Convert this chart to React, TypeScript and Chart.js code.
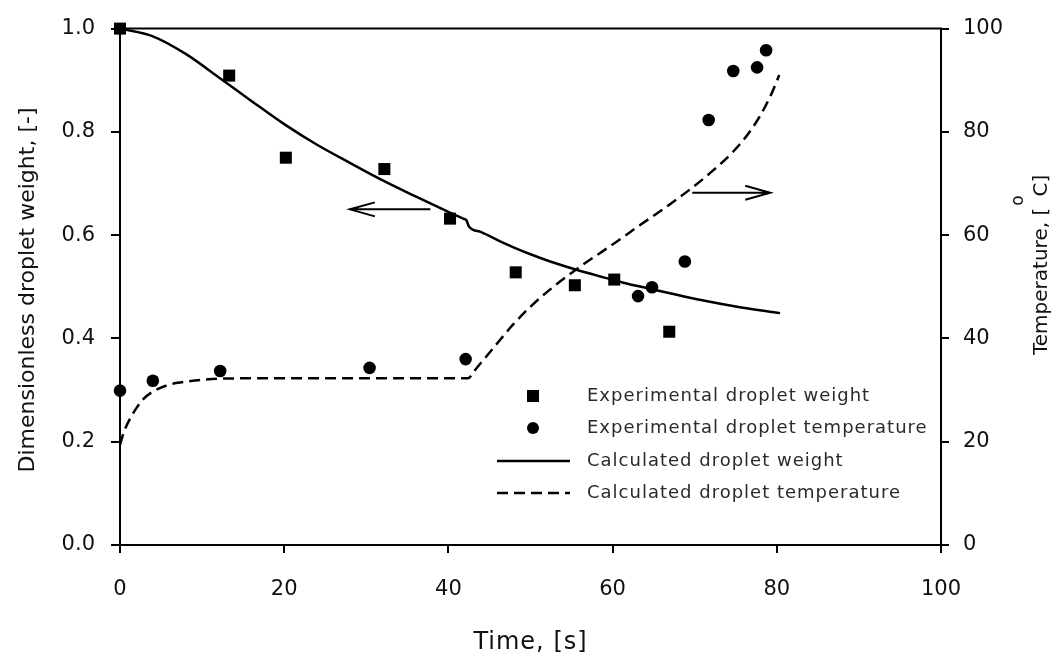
import React, { useEffect, useRef } from "react";
import { Chart, registerables } from "chart.js";

Chart.register(...registerables);

// ---------- data ----------
const expWeightTime = [0, 13.3, 20.2, 32.2, 40.2, 48.2, 55.4, 60.2, 66.9];
const expWeightValue = [1.0, 0.909, 0.75, 0.728, 0.632, 0.528, 0.503, 0.514, 0.413];

const expTempTime = [0, 4.0, 12.2, 30.4, 42.1, 63.1, 64.8, 68.8, 71.7, 74.7, 77.6, 78.7];
const expTempValue = [29.9, 31.8, 33.7, 34.3, 36.0, 48.2, 49.9, 54.9, 82.3, 91.8, 92.5, 95.8];

const calcWeightTime = [0, 4, 8, 12, 16, 20, 24, 28, 32, 36, 40, 41.8, 42.2, 42.5, 44, 46.3, 48, 50, 52.4, 55.6, 58.5, 61.3, 64.6, 67.4, 70.6, 75, 80.4];
const calcWeightValue = [1.0, 0.985, 0.951, 0.906, 0.86, 0.815, 0.775, 0.74, 0.706, 0.675, 0.645, 0.632, 0.629, 0.617, 0.606, 0.588, 0.576, 0.563, 0.549, 0.533, 0.52, 0.508, 0.496, 0.486, 0.475, 0.462, 0.449];

const calcTempTime = [0, 0.5, 1.2, 2, 2.8, 4, 5.7, 7, 8.9, 12, 20, 30, 42.4, 43.2, 45.4, 48, 50.3, 52.4, 55.6, 60, 63.3, 67, 69.7, 72, 74.7, 76.5, 78, 79.3, 80.3];
const calcTempValue = [19.4, 22, 24.4, 26.5, 28.2, 29.7, 30.9, 31.4, 31.8, 32.2, 32.3, 32.3, 32.3, 33.8, 38.0, 42.9, 46.6, 49.5, 53.4, 58.2, 61.9, 66.0, 69.2, 72.2, 76.2, 79.6, 83.2, 87.2, 91.0];

const xTicks = [0, 20, 40, 60, 80, 100];
const weightTicks = [0, 0.2, 0.4, 0.6, 0.8, 1.0];
const tempTicks = [0, 20, 40, 60, 80, 100];

const legendLabels = [
  "Experimental droplet weight",
  "Experimental droplet temperature",
  "Calculated droplet weight",
  "Calculated droplet temperature",
];

const axisTitles = ["Time, [s]", "Dimensionless droplet weight, [-]", "Temperature, [", "o", "C]"];

// arrows: [fromTime, toTime, value]
const weightArrow = [37.8, 28.0, 0.65];
const tempArrow = [69.7, 79.2, 68.2];

const FONT = '"DejaVu Sans", Verdana, sans-serif';

export default function App() {
  const ref = useRef<HTMLCanvasElement>(null);

  useEffect(() => {
    const canvas = ref.current;
    if (!canvas) return;

    const drawArrow = (ctx: CanvasRenderingContext2D, x1: number, x2: number, y: number) => {
      const dir = x2 > x1 ? 1 : -1;
      ctx.beginPath();
      ctx.moveTo(x1, y);
      ctx.lineTo(x2, y);
      ctx.moveTo(x2 - dir * 25, y - 7);
      ctx.lineTo(x2, y);
      ctx.lineTo(x2 - dir * 25, y + 7);
      ctx.stroke();
    };

    const overlay = {
      id: "overlay",
      afterDraw(chart: any) {
        const ctx: CanvasRenderingContext2D = chart.ctx;
        const { left, right, top } = chart.chartArea;
        const xs = chart.scales.x;
        const ys = chart.scales.y;
        const y2 = chart.scales.y2;
        ctx.save();
        // top border
        ctx.strokeStyle = "#000";
        ctx.lineWidth = 2;
        ctx.beginPath();
        ctx.moveTo(left, top);
        ctx.lineTo(right + 1, top);
        ctx.stroke();

        // arrows
        ctx.lineWidth = 2;
        drawArrow(ctx, xs.getPixelForValue(weightArrow[0]), xs.getPixelForValue(weightArrow[1]), ys.getPixelForValue(weightArrow[2]));
        drawArrow(ctx, xs.getPixelForValue(tempArrow[0]), xs.getPixelForValue(tempArrow[1]), y2.getPixelForValue(tempArrow[2]));

        // titles
        ctx.fillStyle = "#111";
        ctx.textAlign = "center";
        ctx.textBaseline = "middle";
        ctx.font = `24px ${FONT}`;
        (ctx as any).letterSpacing = "1px";
        ctx.fillText(axisTitles[0], (left + right) / 2, 643);
        (ctx as any).letterSpacing = "0px";

        ctx.save();
        ctx.translate(28, 290);
        ctx.rotate(-Math.PI / 2);
        ctx.font = `22px ${FONT}`;
        ctx.fillText(axisTitles[1], 0, 0);
        ctx.restore();

        ctx.save();
        ctx.translate(1047, 355);
        ctx.rotate(-Math.PI / 2);
        ctx.textAlign = "left";
        ctx.textBaseline = "alphabetic";
        ctx.font = `20px ${FONT}`;
        ctx.fillText(axisTitles[2], 0, 0);
        const w1 = ctx.measureText(axisTitles[2]).width;
        ctx.font = `17px ${FONT}`;
        ctx.fillText(axisTitles[3], w1 + 2, -24);
        const w2 = ctx.measureText(axisTitles[3]).width;
        ctx.font = `20px ${FONT}`;
        ctx.fillText(axisTitles[4], w1 + w2 + 1, 0);
        ctx.restore();

        // legend
        const rowsY = [396, 428, 461, 493];
        const markX = 533;
        const textX = 587;
        ctx.textAlign = "left";
        ctx.textBaseline = "middle";
        ctx.font = `18px ${FONT}`;
        (ctx as any).letterSpacing = "1px";
        legendLabels.forEach((label, i) => {
          const y = rowsY[i];
          ctx.fillStyle = "#000";
          ctx.strokeStyle = "#000";
          if (i === 0) {
            ctx.fillRect(markX - 6, y - 6, 12, 12);
          } else if (i === 1) {
            ctx.beginPath();
            ctx.arc(markX, y, 6, 0, Math.PI * 2);
            ctx.fill();
          } else {
            ctx.lineWidth = 2.5;
            ctx.setLineDash(i === 3 ? [11, 6] : []);
            ctx.beginPath();
            ctx.moveTo(497, y);
            ctx.lineTo(570, y);
            ctx.stroke();
            ctx.setLineDash([]);
          }
          ctx.fillStyle = "#2a2a2a";
          ctx.fillText(label, textX, y);
        });
        (ctx as any).letterSpacing = "0px";
        ctx.restore();
      },
    };

    const gridOpts = (len: number) => ({
      display: true,
      drawOnChartArea: false,
      drawTicks: true,
      tickLength: len,
      color: "#000",
      lineWidth: 2,
    });
    const borderOpts = { display: true, color: "#000", width: 2 };
    const tickFont = { family: FONT, size: 21 };

    const chart = new Chart(canvas, {
      type: "scatter",
      data: {
        datasets: [
          {
            label: legendLabels[0],
            data: expWeightTime.map((t, i) => ({ x: t, y: expWeightValue[i] })),
            yAxisID: "y",
            pointStyle: "rect",
            pointRadius: 8.5,
            backgroundColor: "#000",
            borderColor: "#000",
            borderWidth: 0,
            clip: false,
          },
          {
            label: legendLabels[1],
            data: expTempTime.map((t, i) => ({ x: t, y: expTempValue[i] })),
            yAxisID: "y2",
            pointStyle: "circle",
            pointRadius: 6.3,
            backgroundColor: "#000",
            borderColor: "#000",
            borderWidth: 0,
            clip: false,
          },
          {
            label: legendLabels[2],
            data: calcWeightTime.map((t, i) => ({ x: t, y: calcWeightValue[i] })),
            yAxisID: "y",
            showLine: true,
            pointRadius: 0,
            borderColor: "#000",
            borderWidth: 2.5,
            cubicInterpolationMode: "monotone",
            clip: false,
          },
          {
            label: legendLabels[3],
            data: calcTempTime.map((t, i) => ({ x: t, y: calcTempValue[i] })),
            yAxisID: "y2",
            showLine: true,
            pointRadius: 0,
            borderColor: "#000",
            borderWidth: 2.5,
            borderDash: [11, 6],
            cubicInterpolationMode: "monotone",
            clip: false,
          },
        ],
      } as any,
      options: {
        responsive: false,
        animation: false,
        events: [],
        layout: { padding: { top: 20, left: 0, right: 0, bottom: 0 } },
        plugins: { legend: { display: false }, tooltip: { enabled: false } },
        scales: {
          x: {
            type: "linear",
            position: "bottom",
            min: 0,
            max: 100,
            afterBuildTicks: (s: any) => { s.ticks = xTicks.map((v) => ({ value: v })); },
            ticks: { font: tickFont, color: "#111", padding: 24, maxRotation: 0 },
            grid: gridOpts(8),
            border: borderOpts,
            afterFit: (s: any) => { s.height = 115; },
          },
          y: {
            type: "linear",
            position: "left",
            min: 0,
            max: 1,
            afterBuildTicks: (s: any) => { s.ticks = weightTicks.map((v) => ({ value: v })); },
            ticks: { font: tickFont, color: "#111", padding: 16, callback: (v: any) => Number(v).toFixed(1) },
            grid: gridOpts(9),
            border: borderOpts,
            afterFit: (s: any) => { s.width = 120; },
          },
          y2: {
            type: "linear",
            position: "right",
            min: 0,
            max: 100,
            afterBuildTicks: (s: any) => { s.ticks = tempTicks.map((v) => ({ value: v })); },
            ticks: { font: tickFont, color: "#111", padding: 14 },
            grid: gridOpts(8),
            border: borderOpts,
            afterFit: (s: any) => { s.width = 116; },
          },
        },
      } as any,
      plugins: [overlay],
    });

    return () => chart.destroy();
  }, []);

  return (
    <div style={{ position: "fixed", left: 0, top: 0, width: 1057, height: 660, background: "#fff" }}>
      <canvas ref={ref} width={1057} height={660} style={{ width: 1057, height: 660, display: "block" }} />
    </div>
  );
}
